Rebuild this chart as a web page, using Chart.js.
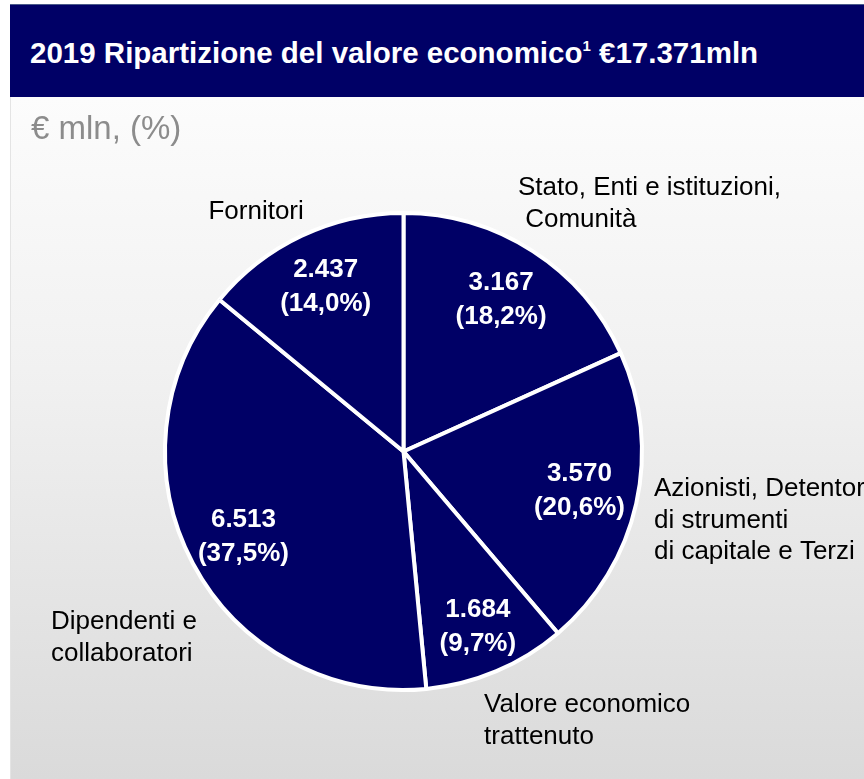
<!DOCTYPE html>
<html>
<head>
<meta charset="utf-8">
<script src="https://cdn.jsdelivr.net/npm/chart.js@4.4.1/dist/chart.umd.min.js"></script>
<style>
  html, body { margin: 0; padding: 0; background: #ffffff; }
  body { width: 864px; height: 779px; position: relative; overflow: hidden; font-family: "Liberation Sans", Arial, sans-serif; }
  #header {
    position: absolute; left: 10px; top: 4px; width: 854px; height: 93px;
    background: #000066; border-top: 1px solid #4a5a8a; box-sizing: border-box;
  }
  #header h1 {
    margin: 0; position: absolute; left: 20px; top: 33px;
    color: #ffffff; font-size: 29.5px; font-weight: bold; white-space: nowrap; line-height: 1;
  }
  #header sup { font-size: 15px; vertical-align: 12px; }
  #panel {
    position: absolute; left: 10px; top: 97px; width: 854px; height: 682px;
    background: linear-gradient(to bottom, #fcfcfc 0%, #f1f1f1 40%, #dadada 100%);
    border-left: 1px solid #e4e4e4; box-sizing: border-box;
  }
  #unit {
    position: absolute; left: 20px; top: 14px; color: #8c8c8c; font-size: 33px; line-height: 1;
  }
  #chartBox { position: absolute; left: 0; top: 0; width: 854px; height: 682px; }
</style>
</head>
<body>
<div id="header"><h1>2019 Ripartizione del valore economico<sup>1</sup> €17.371mln</h1></div>
<div id="panel">
  <div id="chartBox"><canvas id="pieChart"></canvas></div>
  <div id="unit">€ mln, (%)</div>
</div>
<script>
// ---------- dati ----------
const categorie = [
  ["Stato, Enti e istituzioni,", " Comunità"],
  ["Azionisti, Detentori", "di strumenti", "di capitale e Terzi"],
  ["Valore economico", "trattenuto"],
  ["Dipendenti e", "collaboratori"],
  ["Fornitori"]
];
const valori = [3167, 3570, 1684, 6513, 2437];

// ---------- stile etichette ----------
const navy = "#000066";
// distanza etichetta interna dal centro (frazione del raggio)
const raggioInterno = [0.755, 0.756, 0.80, 0.76, 0.765];
// posizione etichette esterne rispetto al centro (in raggi) + allineamento
const etichetteEsterne = [
  { dx: 0.480, dy: -1.105, align: "left" },
  { dx: 1.050, dy: 0.157, align: "left" },
  { dx: 0.338, dy: 1.063, align: "left" },
  { dx: -1.478, dy: 0.715, align: "left" },
  { dx: -0.618, dy: -1.004, align: "center" }
];

const totale = valori.reduce((a, b) => a + b, 0);

function formatoValore(v) {
  return v.toLocaleString("it-IT");
}
function formatoPerc(v) {
  return "(" + (v / totale * 100).toFixed(1).replace(".", ",") + "%)";
}

const etichettePlugin = {
  id: "etichette",
  afterDatasetsDraw(chart) {
    const ctx = chart.ctx;
    const meta = chart.getDatasetMeta(0);
    ctx.save();
    meta.data.forEach((arc, i) => {
      const p = arc.getProps(["x", "y", "startAngle", "endAngle", "outerRadius"], true);
      const mid = (p.startAngle + p.endAngle) / 2;
      const r = p.outerRadius;

      // valore e percentuale dentro la fetta
      const lx = p.x + Math.cos(mid) * r * raggioInterno[i];
      const ly = p.y + Math.sin(mid) * r * raggioInterno[i];
      ctx.fillStyle = "#ffffff";
      ctx.font = "bold 26px 'Liberation Sans', Arial, sans-serif";
      ctx.textAlign = "center";
      ctx.textBaseline = "middle";
      ctx.fillText(formatoValore(valori[i]), lx, ly - 17);
      ctx.fillText(formatoPerc(valori[i]), lx, ly + 17);

      // nome categoria fuori
      const e = etichetteEsterne[i];
      ctx.fillStyle = "#000000";
      ctx.font = "26px 'Liberation Sans', Arial, sans-serif";
      ctx.textAlign = e.align;
      categorie[i].forEach((riga, k) => {
        ctx.fillText(riga, p.x + e.dx * r, p.y + e.dy * r + k * 31.5);
      });
    });
    ctx.restore();
  }
};

let ctx = document.getElementById("pieChart").getContext("2d");

let pieChart = new Chart(ctx, {
  type: "pie",
  data: {
    labels: categorie.map(c => c.join(" ")),
    datasets: [
      {
        data: valori,
        backgroundColor: navy,
        borderColor: "#ffffff",
        borderWidth: 4
      }
    ]
  },
  options: {
    responsive: true,
    maintainAspectRatio: false,
    animation: false,
    layout: {
      padding: { left: 152, right: 221, top: 114, bottom: 87 }
    },
    plugins: {
      legend: { display: false },
      tooltip: { enabled: false }
    }
  },
  plugins: [etichettePlugin]
});
</script>
</body>
</html>
